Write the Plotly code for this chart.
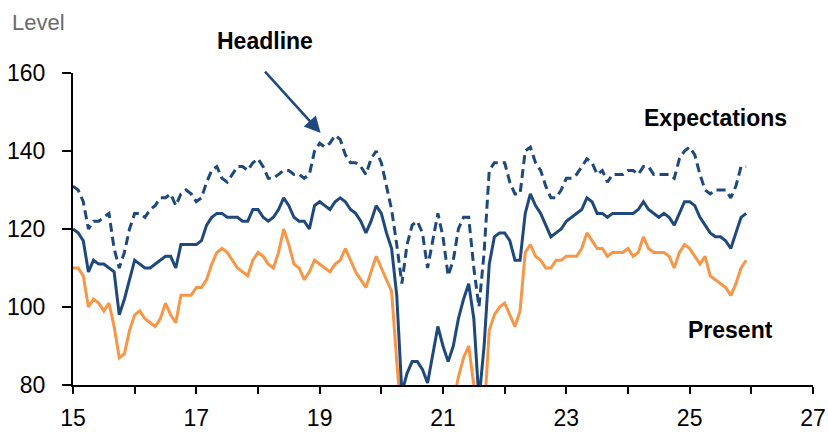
import pandas as pd
import plotly.graph_objects as go

# Monthly observations, Jan 2015 - Dec 2025
months = pd.date_range("2015-01-01", "2025-12-01", freq="MS")

headline = [
    120, 119, 117, 109, 112, 111, 111, 110, 109, 98, 102, 107,
    112, 111, 110, 110, 111, 112, 113, 113, 110, 116, 116, 116,
    116, 117, 121, 123, 124, 124, 123, 123, 123, 122, 122, 125,
    125, 123, 122, 123, 125, 128, 126, 123, 122, 122, 120, 126,
    127, 126, 125, 127, 128, 127, 125, 124, 122, 119, 122, 126,
    124, 119, 115, 103, 78, 83, 86, 86, 84, 80.5, 88, 95,
    90, 86, 90, 97, 102, 106, 97, 76, 90, 111, 118, 119,
    119, 117, 112, 112, 124, 129, 126, 124, 121, 118, 119, 120,
    122, 123, 124, 125, 128, 127, 124, 124, 123, 124, 124, 124,
    124, 124, 125, 127, 125, 124, 123, 124, 123, 121, 124, 127,
    127, 126, 123, 121, 119, 118, 118, 117, 115, 119, 123, 124,
]

expectations = [
    131, 130, 127, 120, 122, 122, 123, 124, 115, 110, 114, 120,
    124, 124, 123, 125, 126, 128, 128, 129, 126, 129, 130, 129,
    127, 128, 132, 135, 136, 133, 132, 134, 136, 136, 135, 137,
    138, 136, 133, 133, 134, 135, 135, 134, 134, 133, 134, 140,
    142, 141, 142, 144, 143, 139, 137, 137, 136, 134, 138, 140,
    137, 131, 125, 116, 106, 116, 121, 122, 119, 110, 117, 124,
    118, 108, 112, 120, 123, 123, 110, 100, 114, 135, 137, 137,
    137, 132, 129, 129, 140, 141, 137, 135, 131, 128, 128, 130,
    133, 133, 134, 136, 138, 137, 134, 135, 132, 134, 134, 134,
    135, 135, 134, 136, 136, 134, 134, 134, 134, 133, 138, 140,
    141, 139, 134, 130, 129, 130, 130, 130, 128, 131, 136, 136,
]

present = [
    110, 110, 108, 100, 102, 101, 99, 101, 95, 87, 88, 94,
    98, 99, 97, 96, 95, 97, 101, 98, 96, 103, 103, 103,
    105, 105, 107, 111, 114, 115, 114, 112, 110, 109, 108, 112,
    114, 113, 111, 110, 114, 120, 116, 111, 110, 107, 109, 112,
    111, 110, 109, 111, 112, 115, 112, 109, 107, 105, 109, 113,
    110, 107, 104, 86, 70, 68, 70, 72, 70, 68, 72, 75,
    74, 72, 76, 82, 87, 90, 80, 70, 72, 94, 98, 100,
    101, 98, 95, 99, 114, 116, 113, 112, 110, 110, 112, 112,
    113, 113, 113, 115, 119, 117, 115, 115, 113, 114, 114, 114,
    115, 113, 114, 118, 115, 114, 114, 114, 113, 110, 114, 116,
    115, 113, 111, 113, 108, 107, 106, 105, 103, 106, 110, 112,
]

x_ticks = [15, 16, 17, 18, 19, 20, 21, 22, 23, 24, 25, 26, 27]
x_tick_labels = ["15", "", "17", "", "19", "", "21", "", "23", "", "25", "", "27"]
y_ticks = [80, 100, 120, 140, 160]

x = [(d.year - 2000) + (d.month - 1) / 12 for d in months]

BLUE = "#1F497D"
ORANGE = "#F79646"
FONT = "Arial, Liberation Sans, sans-serif"

fig = go.Figure()
fig.add_trace(go.Scatter(x=x, y=present, mode="lines", name="Present",
                         line=dict(color=ORANGE, width=3)))
fig.add_trace(go.Scatter(x=x, y=expectations, mode="lines", name="Expectations",
                         line=dict(color=BLUE, width=3, dash="9px,5px")))
fig.add_trace(go.Scatter(x=x, y=headline, mode="lines", name="Headline",
                         line=dict(color=BLUE, width=3)))

fig.update_layout(
    width=828, height=432,
    margin=dict(l=73, r=15, t=73, b=47),
    paper_bgcolor="white", plot_bgcolor="white",
    showlegend=False,
    font=dict(family=FONT, color="black", size=23),
)
fig.update_xaxes(
    range=[15, 27], tickvals=x_ticks, ticktext=x_tick_labels,
    showgrid=False, zeroline=False,
    showline=True, linecolor="black", linewidth=2,
    ticks="outside", ticklen=7, tickwidth=2, tickcolor="black",
    tickfont=dict(size=23, family=FONT, color="black"),
    ticklabelstandoff=4, automargin=False, ticklabeloverflow="allow",
)
fig.update_yaxes(
    range=[80, 160], tickvals=y_ticks,
    showgrid=False, zeroline=False,
    showline=True, linecolor="black", linewidth=2,
    ticks="outside", ticklen=9, tickwidth=2, tickcolor="black",
    tickfont=dict(size=23, family=FONT, color="black"),
    ticklabelstandoff=12, automargin=False,
)

fig.add_annotation(text="Level", xref="paper", yref="paper",
                   x=-0.0851, y=1.163, xanchor="left", yanchor="middle",
                   showarrow=False, font=dict(size=22, color="#6b6b6b", family=FONT))
fig.add_annotation(text="<b>Headline</b>", xref="paper", yref="paper",
                   x=0.2595, y=1.1026, xanchor="center", yanchor="middle",
                   showarrow=False, font=dict(size=23, color="black", family=FONT))
fig.add_annotation(text="<b>Expectations</b>", xref="paper", yref="paper",
                   x=0.868, y=0.856, xanchor="center", yanchor="middle",
                   showarrow=False, font=dict(size=23, color="black", family=FONT))
fig.add_annotation(text="<b>Present</b>", xref="paper", yref="paper",
                   x=0.888, y=0.175, xanchor="center", yanchor="middle",
                   showarrow=False, font=dict(size=23, color="black", family=FONT))
# arrow from the Headline label
fig.add_annotation(text="", x=19.016, y=144.6, xref="x", yref="y",
                   ax=-57, ay=-63, axref="pixel", ayref="pixel",
                   showarrow=True, arrowhead=2, arrowsize=1.3, arrowwidth=2.5,
                   arrowcolor=BLUE, standoff=0)

fig.write_html("out.html", config={"displayModeBar": False},
               post_script="document.body.style.margin='0';")
